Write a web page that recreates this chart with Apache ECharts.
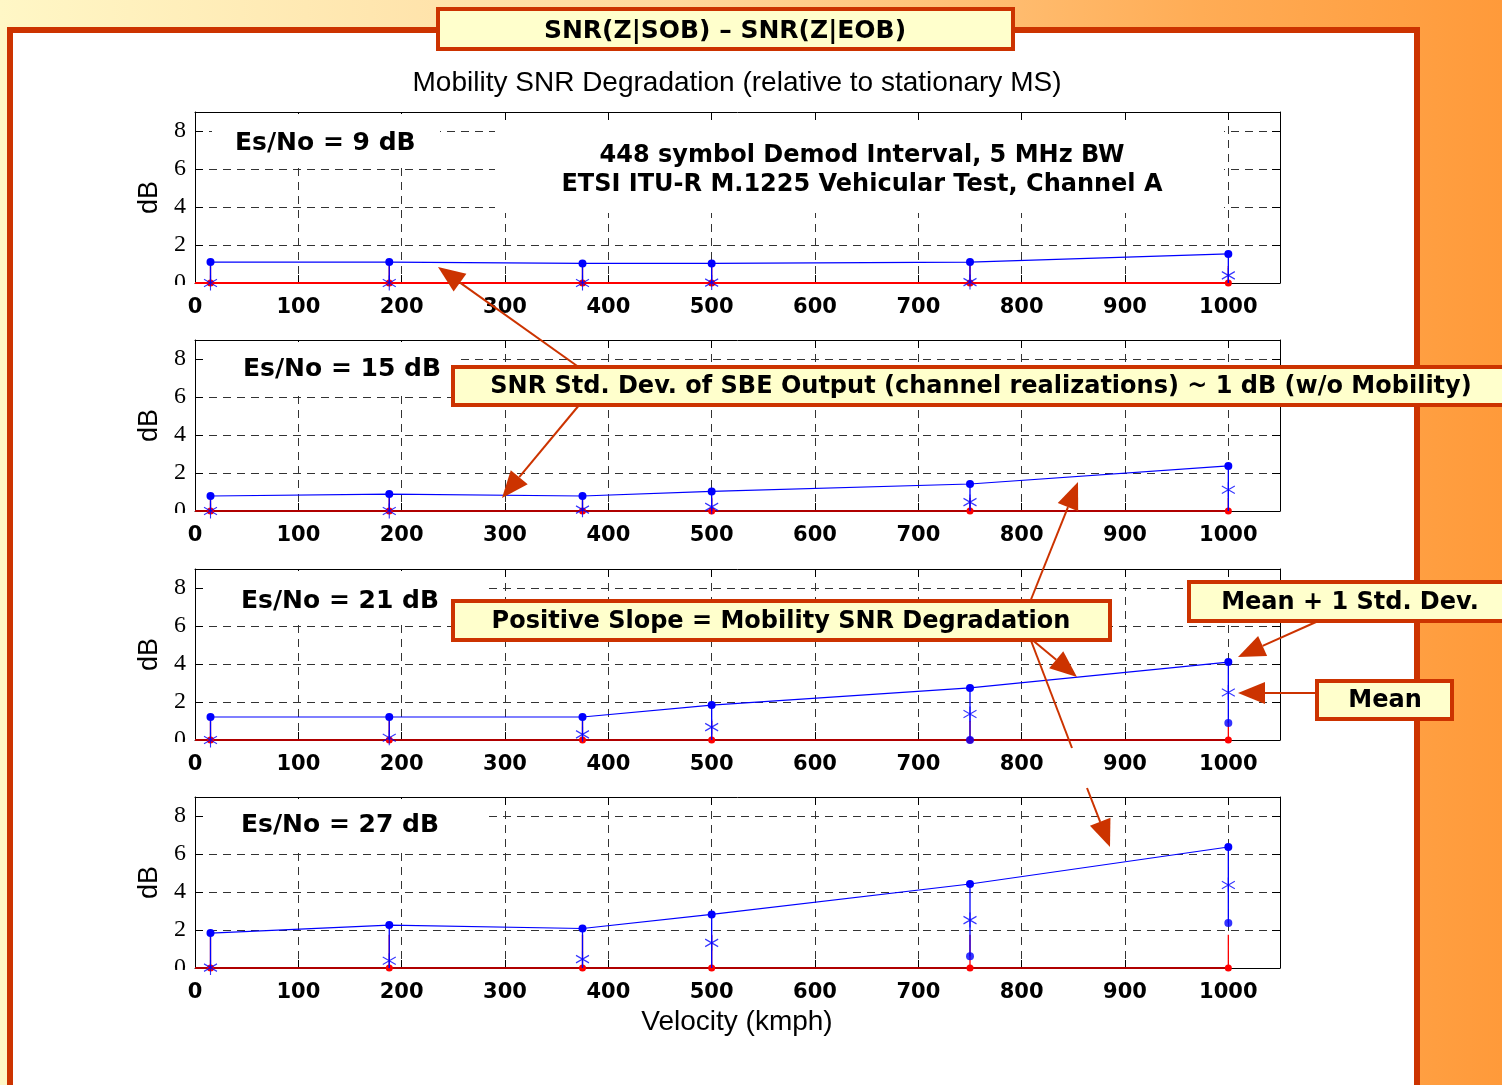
<!DOCTYPE html>
<html>
<head>
<meta charset="utf-8">
<title>Mobility SNR Degradation</title>
<script src="https://cdn.jsdelivr.net/npm/echarts@6/dist/echarts.min.js"></script>
<style>
  html, body { margin: 0; padding: 0; background: #fff; }
  #chart { width: 1502px; height: 1085px; }
</style>
</head>
<body>
<div id="chart"></div>
<script>
// velocities (kmph) of the mobile runs
var velocity = [15, 188, 375, 500, 750, 1000];
// stationary reference line starts at 0 kmph
var refVelocity = [0, 15, 188, 375, 500, 750, 1000];

// SNR(Z|SOB) - SNR(Z|EOB) in dB : mean and std dev per velocity
var mean9  = [0.00, 0.00, 0.00, 0.02, 0.05, 0.40];
var std9   = [1.10, 1.10, 1.03, 1.01, 1.05, 1.13];
var mean15 = [0.00, 0.00, 0.07, 0.22, 0.47, 1.12];
var std15  = [0.79, 0.89, 0.72, 0.81, 0.95, 1.25];
var mean21 = [0.00, 0.12, 0.30, 0.68, 1.37, 2.50];
var std21  = [1.21, 1.09, 0.91, 1.16, 1.37, 1.60];
var mean27 = [0.02, 0.38, 0.47, 1.32, 2.52, 4.37];
var std27  = [1.82, 1.88, 1.61, 1.50, 1.90, 2.00];
// stationary MS std dev (red bars), one per Es/No
var refStd = [0.90, 0.70, 1.00, 1.75];

var esNoLabels = ['Es/No = 9 dB', 'Es/No = 15 dB', 'Es/No = 21 dB', 'Es/No = 27 dB'];
var xTickLabels = [0, 100, 200, 300, 400, 500, 600, 700, 800, 900, 1000];
var yTickLabels = [0, 2, 4, 6, 8];

var panels = [
  { mean: mean9, std: std9 },
  { mean: mean15, std: std15 },
  { mean: mean21, std: std21 },
  { mean: mean27, std: std27 }
];

var BLUE = '#0000ff';
var RED = '#ff0000';
var ORANGE = '#cc3300';
var BOLD = 'DejaVu Sans';
var gridTops = [112, 340, 569, 797];
var baseColors = ['#ff0000', '#b00000', '#b00000', '#b00000'];

var chart = echarts.init(document.getElementById('chart'));

var grids = [], xAxes = [], yAxes = [], series = [];

// matlab style asterisk marker
var asterisk = 'path://M0,-10L0,10M-8.66,-5L8.66,5M-8.66,5L8.66,-5';

function barRender(color) {
  return function (params, api) {
    var x = api.value(0);
    var a = api.coord([x, Math.max(api.value(1), 0)]);
    var b = api.coord([x, api.value(2)]);
    return {
      type: 'line',
      shape: { x1: a[0], y1: a[1], x2: b[0], y2: b[1] },
      style: { stroke: color, lineWidth: 1.3 }
    };
  };
}

panels.forEach(function (p, i) {
  grids.push({ left: 195, top: gridTops[i], width: 1085, height: 171 });

  xAxes.push({
    type: 'value', gridIndex: i, min: 0, max: 1050, interval: 100,
    axisLine: { onZero: false, lineStyle: { color: '#000', width: 1 } },
    axisTick: { inside: true, length: 8, lineStyle: { color: '#000' } },
    axisLabel: {
      margin: 14, color: '#000', fontFamily: BOLD, fontWeight: 'bold', fontSize: 21,
      formatter: function (v) { return xTickLabels.indexOf(v) >= 0 ? String(v) : ''; }
    },
    splitLine: { show: true, lineStyle: { type: [8, 6], color: '#333', width: 1 } }
  });
  xAxes.push({
    type: 'value', gridIndex: i, position: 'top', min: 0, max: 1050, interval: 100,
    axisLine: { onZero: false, lineStyle: { color: '#000', width: 1 } },
    axisTick: { inside: true, length: 8, lineStyle: { color: '#000' } },
    axisLabel: { show: false },
    splitLine: { show: false }
  });

  yAxes.push({
    type: 'value', gridIndex: i, min: 0, max: 9, interval: 2,
    name: 'dB', nameLocation: 'middle', nameGap: 27,
    nameTextStyle: { fontFamily: 'Liberation Sans', fontSize: 27, color: '#000' },
    axisLine: { onZero: false, lineStyle: { color: '#000', width: 1 } },
    axisTick: { inside: true, length: 8, lineStyle: { color: '#000' } },
    axisLabel: {
      margin: 9, color: '#000', fontFamily: 'Liberation Serif', fontSize: 24,
      formatter: function (v) { return yTickLabels.indexOf(v) >= 0 ? String(v) : ''; }
    },
    splitLine: { show: true, lineStyle: { type: [8, 6], color: '#333', width: 1 } }
  });
  yAxes.push({
    type: 'value', gridIndex: i, position: 'right', min: 0, max: 9, interval: 2,
    axisLine: { onZero: false, lineStyle: { color: '#000', width: 1 } },
    axisTick: { inside: true, length: 8, lineStyle: { color: '#000' } },
    axisLabel: { show: false },
    splitLine: { show: false }
  });

  var xi = 2 * i, yi = 2 * i;
  var rs = refStd[i];

  // stationary std bars (red), mostly hidden behind the blue ones
  series.push({
    type: 'custom', xAxisIndex: xi, yAxisIndex: yi, z: 3, clip: false,
    encode: { x: 0, y: [1, 2] },
    data: velocity.map(function (v) { return [v, -rs, rs]; }),
    renderItem: barRender(RED)
  });
  // stationary reference: zero difference
  series.push({
    type: 'line', xAxisIndex: xi, yAxisIndex: yi, z: 4, clip: false,
    data: refVelocity.map(function (v) { return [v, 0]; }),
    symbol: function (val) { return val[0] === 0 ? 'none' : 'circle'; },
    symbolSize: 7,
    itemStyle: { color: RED },
    lineStyle: { color: baseColors[i], width: 2 }
  });
  // mobile std bars (blue)
  series.push({
    type: 'custom', xAxisIndex: xi, yAxisIndex: yi, z: 5, clip: false,
    encode: { x: 0, y: [1, 2] },
    data: velocity.map(function (v, k) { return [v, p.mean[k] - p.std[k], p.mean[k] + p.std[k]]; }),
    renderItem: barRender(BLUE)
  });
  // mean + 1 std dev, connected
  series.push({
    type: 'line', xAxisIndex: xi, yAxisIndex: yi, z: 6, clip: false,
    data: velocity.map(function (v, k) { return [v, p.mean[k] + p.std[k]]; }),
    symbol: 'circle', symbolSize: 8,
    itemStyle: { color: BLUE },
    lineStyle: { color: BLUE, width: 1.2 }
  });
  // mean - 1 std dev (only where it is inside the axes)
  series.push({
    type: 'scatter', xAxisIndex: xi, yAxisIndex: yi, z: 6, clip: false,
    data: velocity.map(function (v, k) { return [v, p.mean[k] - p.std[k]]; })
      .filter(function (d) { return d[1] >= 0; }),
    symbol: 'circle', symbolSize: 8,
    itemStyle: { color: BLUE }
  });
  // mean
  series.push({
    type: 'scatter', xAxisIndex: xi, yAxisIndex: yi, z: 7, clip: false,
    data: velocity.map(function (v, k) { return [v, p.mean[k]]; }),
    symbol: asterisk, symbolSize: [13, 15],
    itemStyle: { color: 'none', borderColor: BLUE, borderWidth: 1.2 }
  });
});

function arrow(x1, y1, x2, y2) {
  var dx = x2 - x1, dy = y2 - y1, L = Math.sqrt(dx * dx + dy * dy);
  var ux = dx / L, uy = dy / L, len = 27, hw = 11;
  var bx = x2 - ux * len, by = y2 - uy * len;
  return [
    { type: 'line', z: 90, shape: { x1: x1, y1: y1, x2: bx, y2: by }, style: { stroke: ORANGE, lineWidth: 2 } },
    { type: 'polygon', z: 90, shape: { points: [[x2, y2], [bx - uy * hw, by + ux * hw], [bx + uy * hw, by - ux * hw]] }, style: { fill: ORANGE } }
  ];
}

function box(x, y, w, h, text, tx) {
  return [
    { type: 'rect', z: 95, shape: { x: x, y: y, width: w, height: h }, style: { fill: '#ffffcc', stroke: ORANGE, lineWidth: 4 } },
    { type: 'text', z: 96, style: { x: tx, y: y + h / 2 + 1, text: text, font: 'bold 24px "DejaVu Sans"', fill: '#000', textAlign: 'center', textVerticalAlign: 'middle' } }
  ];
}

function cover(x, y, w, h) {
  return { type: 'rect', z: 1, shape: { x: x, y: y, width: w, height: h }, style: { fill: '#fff' } };
}

function label(x, y, text) {
  return { type: 'text', z: 1, style: { x: x, y: y, text: text, font: 'bold 25px "DejaVu Sans"', fill: '#000', textAlign: 'left', textVerticalAlign: 'middle' } };
}

var graphics = [
  {
    type: 'rect', z: -10, shape: { x: 0, y: 0, width: 1502, height: 1085 },
    style: {
      fill: { type: 'linear', x: 0, y: 0, x2: 1, y2: 0, colorStops: [
        { offset: 0, color: '#fff7c6' }, { offset: 0.45, color: '#ffd89c' },
        { offset: 0.8, color: '#ffac55' }, { offset: 1, color: '#ff9a3a' }] }
    }
  },
  { type: 'rect', z: -9, shape: { x: 10, y: 30, width: 1407, height: 1100 }, style: { fill: '#fff', stroke: ORANGE, lineWidth: 6 } },
  { type: 'rect', z: 50, shape: { x: 438, y: 9, width: 575, height: 40 }, style: { fill: '#ffffcc', stroke: ORANGE, lineWidth: 4 } },
  { type: 'text', z: 51, style: { x: 725, y: 31, text: 'SNR(Z|SOB) \u2013 SNR(Z|EOB)', font: 'bold 25px "DejaVu Sans"', fill: '#000', textAlign: 'center', textVerticalAlign: 'middle' } },
  { type: 'text', z: 51, style: { x: 737, y: 83, text: 'Mobility SNR Degradation (relative to stationary MS)', font: '28px "Liberation Sans"', fill: '#000', textAlign: 'center', textVerticalAlign: 'middle' } },
  { type: 'text', z: 51, style: { x: 737, y: 1022, text: 'Velocity (kmph)', font: '28px "Liberation Sans"', fill: '#000', textAlign: 'center', textVerticalAlign: 'middle' } },

  cover(212, 114, 228, 48),
  cover(495, 121, 729, 92),
  cover(205, 342, 250, 53),
  cover(205, 571, 282, 53),
  cover(205, 799, 282, 52),
  // the bottom of each "0" tick label is hidden in the original
  cover(160, 285, 33, 12),
  cover(160, 513, 33, 12),
  cover(160, 742, 33, 12),
  cover(160, 970, 33, 12),
  label(235, 143, esNoLabels[0]),
  label(243, 369, esNoLabels[1]),
  label(241, 601, esNoLabels[2]),
  label(241, 825, esNoLabels[3]),
  { type: 'text', z: 2, style: { x: 862, y: 156, text: '448 symbol Demod Interval, 5 MHz BW', font: 'bold 24px "DejaVu Sans"', fill: '#000', textAlign: 'center', textVerticalAlign: 'middle' } },
  { type: 'text', z: 2, style: { x: 862, y: 185, text: 'ETSI ITU-R M.1225 Vehicular Test, Channel A', font: 'bold 24px "DejaVu Sans"', fill: '#000', textAlign: 'center', textVerticalAlign: 'middle' } }
];

graphics = graphics
  .concat(box(453, 367, 1060, 38, 'SNR Std. Dev. of SBE Output (channel realizations) ~ 1 dB (w/o Mobility)', 981))
  .concat(box(453, 601, 657, 39, 'Positive Slope = Mobility SNR Degradation', 781))
  .concat(box(1189, 582, 320, 39, 'Mean + 1 Std. Dev.', 1350))
  .concat(box(1317, 681, 135, 38, 'Mean', 1385))
  .concat(arrow(580, 368, 438, 267))
  .concat(arrow(580, 404, 502, 498))
  .concat(arrow(1030, 602, 1078, 482))
  .concat(arrow(1030, 638, 1077, 677))
  .concat([{ type: 'line', z: 90, shape: { x1: 1030, y1: 638, x2: 1072, y2: 748 }, style: { stroke: ORANGE, lineWidth: 2 } }])
  .concat(arrow(1087, 788, 1110, 847))
  .concat(arrow(1316, 622, 1238, 657))
  .concat(arrow(1318, 693, 1238, 693));

chart.setOption({
  animation: false,
  backgroundColor: 'transparent',
  grid: grids,
  xAxis: xAxes,
  yAxis: yAxes,
  series: series,
  graphic: graphics
});
</script>
</body>
</html>
